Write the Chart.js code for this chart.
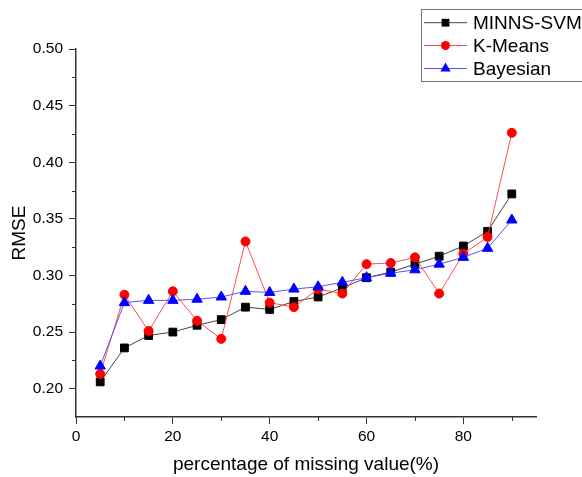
<!DOCTYPE html>
<html>
<head>
<meta charset="utf-8">
<script src="https://cdn.jsdelivr.net/npm/chart.js@4/dist/chart.umd.min.js"></script>
<style>
  html, body { margin: 0; padding: 0; background: #fff; }
  #wrap { width: 582px; height: 477px; }
</style>
</head>
<body>
<div id="wrap"><canvas id="rmseChart" width="582" height="477"></canvas></div>
<script>
const missingPct = [5, 10, 15, 20, 25, 30, 35, 40, 45, 50, 55, 60, 65, 70, 75, 80, 85, 90];
const minnsSvm = [0.206, 0.236, 0.247, 0.250, 0.256, 0.261, 0.272, 0.270, 0.277, 0.281, 0.289, 0.298, 0.303, 0.310, 0.317, 0.326, 0.339, 0.372];
const kMeans = [0.213, 0.283, 0.251, 0.286, 0.260, 0.244, 0.330, 0.276, 0.272, 0.288, 0.284, 0.310, 0.311, 0.316, 0.284, 0.319, 0.334, 0.426];
const bayesian = [0.220, 0.276, 0.278, 0.278, 0.279, 0.281, 0.286, 0.285, 0.288, 0.290, 0.294, 0.298, 0.302, 0.305, 0.310, 0.316, 0.324, 0.349];
const yMinorTicks = [0.225, 0.275, 0.325, 0.375, 0.425, 0.475];
const xMinorTicks = [10, 30, 50, 70, 90];

const FONT = 'Liberation Sans, Arial, sans-serif';
const toPoints = (ys) => ys.map((y, i) => ({ x: missingPct[i], y: y }));

function drawMarker(ctx, style, x, y, r, color) {
  ctx.save();
  ctx.fillStyle = color;
  ctx.beginPath();
  if (style === 'rect') {
    const s = r * Math.SQRT1_2;
    ctx.rect(x - s, y - s, 2 * s, 2 * s);
  } else if (style === 'triangle') {
    ctx.moveTo(x, y - r);
    ctx.lineTo(x + r * 0.866, y + r * 0.5);
    ctx.lineTo(x - r * 0.866, y + r * 0.5);
    ctx.closePath();
  } else {
    ctx.arc(x, y, r, 0, Math.PI * 2);
  }
  ctx.fill();
  ctx.restore();
}

// minor ticks + boxed legend like the original plot
const extras = {
  id: 'extras',
  afterDraw(chart) {
    const ctx = chart.ctx;
    const xs = chart.scales.x, ys = chart.scales.y;
    ctx.save();
    ctx.strokeStyle = '#333';
    ctx.lineWidth = 1;
    ctx.beginPath();
    yMinorTicks.forEach((v) => {
      const p = Math.round(ys.getPixelForValue(v)) + 0.5;
      ctx.moveTo(xs.left - 4, p);
      ctx.lineTo(xs.left, p);
    });
    xMinorTicks.forEach((v) => {
      const p = Math.round(xs.getPixelForValue(v)) + 0.5;
      ctx.moveTo(p, ys.bottom);
      ctx.lineTo(p, ys.bottom + 4);
    });
    ctx.stroke();

    // legend
    ctx.strokeStyle = '#777';
    ctx.strokeRect(421.5, 9.5, 200, 72);
    const rows = [22.7, 45.5, 68.5];
    ctx.font = '19px ' + FONT;
    ctx.textBaseline = 'middle';
    chart.data.datasets.forEach((ds, i) => {
      const y = rows[i];
      ctx.strokeStyle = ds.borderColor;
      ctx.beginPath();
      ctx.moveTo(424, y);
      ctx.lineTo(467, y);
      ctx.stroke();
      drawMarker(ctx, ds.pointStyle, 445.5, y, ds.pointRadius, ds.pointBackgroundColor);
      ctx.fillStyle = '#000';
      ctx.fillText(ds.label, 473, y + 1);
    });
    ctx.restore();
  }
};

new Chart(document.getElementById('rmseChart'), {
  type: 'line',
  data: {
    datasets: [{
      label: 'MINNS-SVM',
      data: toPoints(minnsSvm),
      borderColor: '#444444',
      pointBackgroundColor: '#000000',
      pointBorderColor: '#000000',
      pointStyle: 'rect',
      pointRadius: 5.5,
      borderWidth: 1,
      order: 2
    }, {
      label: 'K-Means',
      data: toPoints(kMeans),
      borderColor: '#ff4d4d',
      pointBackgroundColor: '#ff0000',
      pointBorderColor: '#ff0000',
      pointStyle: 'circle',
      pointRadius: 4.5,
      borderWidth: 1,
      order: 1
    }, {
      label: 'Bayesian',
      data: toPoints(bayesian),
      borderColor: '#5555ff',
      pointBackgroundColor: '#0000ff',
      pointBorderColor: '#0000ff',
      pointStyle: 'triangle',
      pointRadius: 6,
      borderWidth: 1,
      order: 0
    }]
  },
  options: {
    responsive: false,
    animation: false,
    layout: { padding: { top: 49, right: 46, left: 0, bottom: 0 } },
    plugins: {
      legend: { display: false },
      tooltip: { enabled: false }
    },
    scales: {
      x: {
        type: 'linear',
        min: 0,
        max: 95,
        afterFit: (s) => { s.height = 60; },
        border: { display: true, color: '#333', width: 1.5 },
        grid: { drawOnChartArea: false, tickLength: 7, color: '#333' },
        ticks: {
          stepSize: 20,
          includeBounds: false,
          padding: 3,
          color: '#000',
          font: { family: FONT, size: 15.5 }
        },
        title: {
          display: true,
          text: 'percentage of missing value(%)',
          color: '#000',
          font: { family: FONT, size: 19 },
          padding: { top: 0, bottom: 1 }
        }
      },
      y: {
        min: 0.175,
        max: 0.50,
        afterFit: (s) => { s.width = 76; },
        border: { display: true, color: '#333', width: 1.5 },
        grid: { drawOnChartArea: false, tickLength: 7, color: '#333' },
        ticks: {
          stepSize: 0.05,
          includeBounds: false,
          padding: 6,
          color: '#000',
          font: { family: FONT, size: 15.5 },
          callback: (v) => v.toFixed(2)
        },
        title: {
          display: true,
          text: 'RMSE',
          color: '#000',
          font: { family: FONT, size: 19 },
          padding: { top: 8, bottom: 0 }
        }
      }
    }
  },
  plugins: [extras]
});
</script>
</body>
</html>
